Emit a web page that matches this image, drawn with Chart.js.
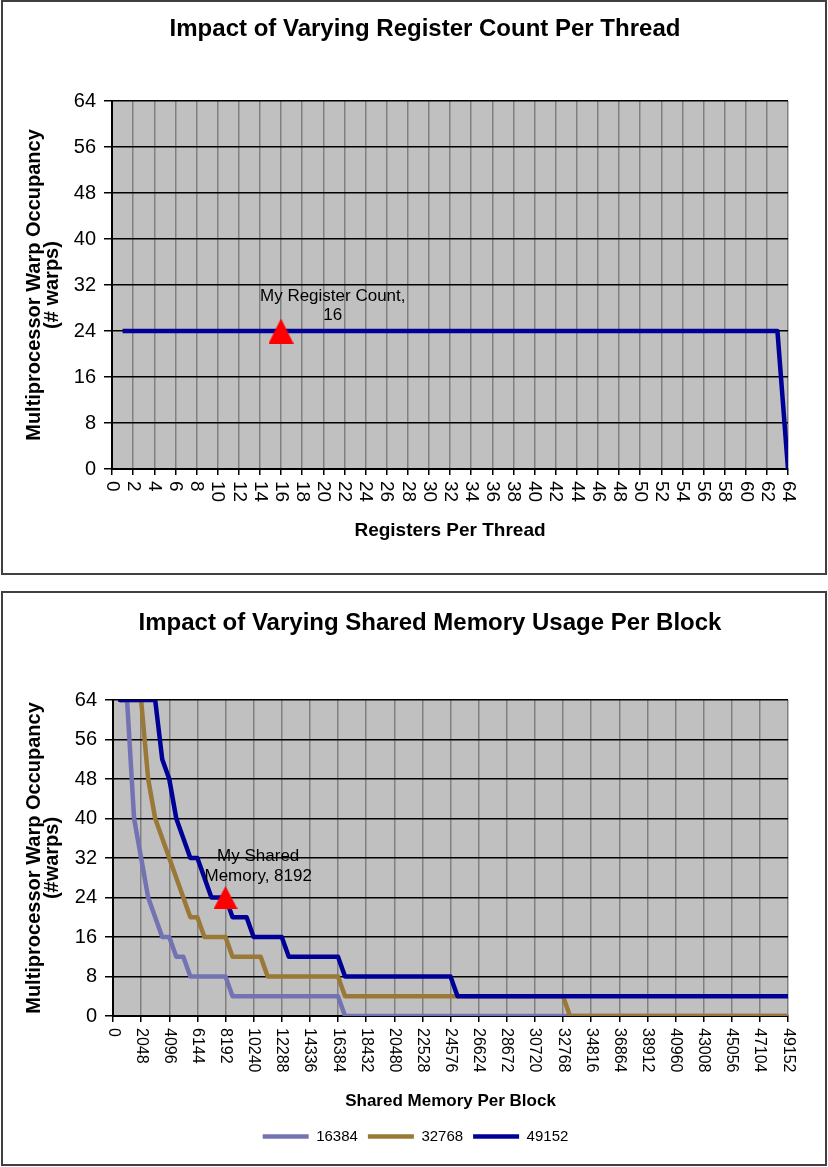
<!DOCTYPE html>
<html>
<head>
<meta charset="utf-8">
<script src="https://cdn.jsdelivr.net/npm/chart.js@4.4.1/dist/chart.umd.min.js"></script>
<style>
  body { margin: 0; background: #fff; }
  .box { position: absolute; left: 1px; width: 822px; height: 571px; border: 2px solid #404040; }
  #box1 { top: 0px; }
  #box2 { top: 591px; }
  canvas { display: block; }
</style>
</head>
<body>
<div class="box" id="box1"><canvas id="regChart" width="822" height="571"></canvas></div>
<div class="box" id="box2"><canvas id="smemChart" width="822" height="571"></canvas></div>
<script>
// ---- chart 1 : registers per thread ----
var regCount = [
  1, 2, 3, 4, 5, 6, 7, 8, 9, 10, 11, 12, 13, 14, 15, 16,
  17, 18, 19, 20, 21, 22, 23, 24, 25, 26, 27, 28, 29, 30, 31, 32,
  33, 34, 35, 36, 37, 38, 39, 40, 41, 42, 43, 44, 45, 46, 47, 48,
  49, 50, 51, 52, 53, 54, 55, 56, 57, 58, 59, 60, 61, 62, 63, 64
];
var regWarps = [
  24, 24, 24, 24, 24, 24, 24, 24, 24, 24, 24, 24, 24, 24, 24, 24,
  24, 24, 24, 24, 24, 24, 24, 24, 24, 24, 24, 24, 24, 24, 24, 24,
  24, 24, 24, 24, 24, 24, 24, 24, 24, 24, 24, 24, 24, 24, 24, 24,
  24, 24, 24, 24, 24, 24, 24, 24, 24, 24, 24, 24, 24, 24, 24, 0
];
var regTicks = [0, 2, 4, 6, 8, 10, 12, 14, 16, 18, 20, 22, 24, 26, 28, 30, 32,
  34, 36, 38, 40, 42, 44, 46, 48, 50, 52, 54, 56, 58, 60, 62, 64];
var myRegs = 16, myRegWarps = 24;

// ---- chart 2 : shared memory per block ----
var smemBytes = [
  512, 1024, 1536, 2048, 2560, 3072, 3584, 4096, 4608, 5120, 5632, 6144, 6656, 7168, 7680, 8192,
  8704, 9216, 9728, 10240, 10752, 11264, 11776, 12288, 12800, 13312, 13824, 14336, 14848, 15360, 15872, 16384,
  16896, 17408, 17920, 18432, 18944, 19456, 19968, 20480, 20992, 21504, 22016, 22528, 23040, 23552, 24064, 24576,
  25088, 25600, 26112, 26624, 27136, 27648, 28160, 28672, 29184, 29696, 30208, 30720, 31232, 31744, 32256, 32768,
  33280, 33792, 34304, 34816, 35328, 35840, 36352, 36864, 37376, 37888, 38400, 38912, 39424, 39936, 40448, 40960,
  41472, 41984, 42496, 43008, 43520, 44032, 44544, 45056, 45568, 46080, 46592, 47104, 47616, 48128, 48640, 49152
];
var warps16k = [
  64, 64, 40, 32, 24, 20, 16, 16, 12, 12, 8, 8, 8, 8, 8, 8,
  4, 4, 4, 4, 4, 4, 4, 4, 4, 4, 4, 4, 4, 4, 4, 4,
  0, 0, 0, 0, 0, 0, 0, 0, 0, 0, 0, 0, 0, 0, 0, 0,
  0, 0, 0, 0, 0, 0, 0, 0, 0, 0, 0, 0, 0, 0, 0, 0,
  0, 0, 0, 0, 0, 0, 0, 0, 0, 0, 0, 0, 0, 0, 0, 0,
  0, 0, 0, 0, 0, 0, 0, 0, 0, 0, 0, 0, 0, 0, 0, 0
];
var warps32k = [
  64, 64, 64, 64, 48, 40, 36, 32, 28, 24, 20, 20, 16, 16, 16, 16,
  12, 12, 12, 12, 12, 8, 8, 8, 8, 8, 8, 8, 8, 8, 8, 8,
  4, 4, 4, 4, 4, 4, 4, 4, 4, 4, 4, 4, 4, 4, 4, 4,
  4, 4, 4, 4, 4, 4, 4, 4, 4, 4, 4, 4, 4, 4, 4, 4,
  0, 0, 0, 0, 0, 0, 0, 0, 0, 0, 0, 0, 0, 0, 0, 0,
  0, 0, 0, 0, 0, 0, 0, 0, 0, 0, 0, 0, 0, 0, 0, 0
];
var warps48k = [
  64, 64, 64, 64, 64, 64, 52, 48, 40, 36, 32, 32, 28, 24, 24, 24,
  20, 20, 20, 16, 16, 16, 16, 16, 12, 12, 12, 12, 12, 12, 12, 12,
  8, 8, 8, 8, 8, 8, 8, 8, 8, 8, 8, 8, 8, 8, 8, 8,
  4, 4, 4, 4, 4, 4, 4, 4, 4, 4, 4, 4, 4, 4, 4, 4,
  4, 4, 4, 4, 4, 4, 4, 4, 4, 4, 4, 4, 4, 4, 4, 4,
  4, 4, 4, 4, 4, 4, 4, 4, 4, 4, 4, 4, 4, 4, 4, 4
];
var smemConfigs = ['16384', '32768', '49152'];
var smemTicks = [0, 2048, 4096, 6144, 8192, 10240, 12288, 14336, 16384, 18432, 20480,
  22528, 24576, 26624, 28672, 30720, 32768, 34816, 36864, 38912, 40960, 43008, 45056, 47104, 49152];
var mySmem = 8192, mySmemWarps = 24;

var warpTicks = [0, 8, 16, 24, 32, 40, 48, 56, 64];

var FONT = '"Liberation Sans", Arial, sans-serif';
Chart.defaults.font.family = FONT;
Chart.defaults.color = '#000';

function xy(xs, ys) {
  return xs.map(function (x, i) { return { x: x, y: ys[i] }; });
}

function triangleImage(w, h) {
  var c = document.createElement('canvas');
  c.width = w; c.height = h;
  var g = c.getContext('2d');
  g.fillStyle = '#ff0000';
  g.beginPath();
  g.moveTo(w / 2, 0);
  g.lineTo(w, h);
  g.lineTo(0, h);
  g.closePath();
  g.fill();
  return c;
}

function useTicks(list) {
  return function (scale) {
    scale.ticks = list.map(function (v) { return { value: v }; });
  };
}

// silver plot area
var silverPlot = {
  id: 'silverPlot',
  beforeDraw: function (chart) {
    var a = chart.chartArea, ctx = chart.ctx;
    ctx.save();
    ctx.fillStyle = '#c0c0c0';
    ctx.fillRect(a.left, a.top, a.right - a.left, a.bottom - a.top);
    ctx.restore();
  }
};

// chart heading
var headline = {
  id: 'headline',
  afterDraw: function (chart, args, opts) {
    var ctx = chart.ctx;
    ctx.save();
    ctx.font = 'bold 24px ' + FONT;
    ctx.fillStyle = '#000';
    ctx.textAlign = 'center';
    ctx.textBaseline = 'middle';
    ctx.fillText(opts.text, opts.x, opts.y);
    ctx.restore();
  }
};

// x tick labels turned clockwise, reading downwards
var downTicks = {
  id: 'downTicks',
  afterDraw: function (chart, args, opts) {
    var xs = chart.scales.x, ctx = chart.ctx;
    ctx.save();
    ctx.font = opts.size + 'px ' + FONT;
    ctx.fillStyle = '#000';
    ctx.textAlign = 'left';
    ctx.textBaseline = 'middle';
    xs.ticks.forEach(function (t) {
      ctx.save();
      ctx.translate(xs.getPixelForValue(t.value), xs.top + opts.gap);
      ctx.rotate(Math.PI / 2);
      ctx.fillText(String(t.value), 0, 0);
      ctx.restore();
    });
    ctx.restore();
  }
};

// data label over the red marker
var callout = {
  id: 'callout',
  afterDatasetsDraw: function (chart, args, opts) {
    var ctx = chart.ctx;
    var px = chart.scales.x.getPixelForValue(opts.x);
    var py = chart.scales.y.getPixelForValue(opts.y);
    ctx.save();
    ctx.font = '17px ' + FONT;
    var w = 0;
    opts.lines.forEach(function (s) { w = Math.max(w, ctx.measureText(s).width); });
    var cx = px - 21 + w / 2;
    ctx.fillStyle = '#000';
    ctx.textAlign = 'center';
    ctx.textBaseline = 'middle';
    opts.lines.forEach(function (s, i) {
      ctx.fillText(s, cx, py + opts.dy - (opts.lines.length - 1 - i) * opts.gap);
    });
    ctx.restore();
  }
};

function gridX() {
  return { color: '#808080', lineWidth: 1.5, tickColor: '#000', tickLength: 6 };
}
function gridY() {
  return { color: '#000', lineWidth: 1.5, tickColor: '#000', tickLength: 8 };
}

// chart 1
new Chart(document.getElementById('regChart'), {
  type: 'line',
  data: {
    datasets: [
      {
        label: 'Warps',
        data: xy(regCount, regWarps),
        borderColor: '#000096',
        borderWidth: 4.5,
        borderJoinStyle: 'round',
        pointRadius: 0,
        order: 2
      },
      {
        label: 'My Register Count',
        data: [{ x: myRegs, y: myRegWarps }],
        pointStyle: triangleImage(25, 25),
        pointRadius: 12,
        showLine: false,
        order: 1
      }
    ]
  },
  options: {
    responsive: false,
    animation: false,
    events: [],
    layout: { padding: { top: 99, right: 37, bottom: 0, left: 0 } },
    plugins: {
      legend: { display: false },
      tooltip: { enabled: false },
      headline: { text: 'Impact of Varying Register Count Per Thread', x: 422, y: 27 },
      downTicks: { size: 19, gap: 12 },
      callout: { x: myRegs, y: myRegWarps, lines: ['My Register Count,', String(myRegs)], dy: -16, gap: 19 }
    },
    scales: {
      x: {
        type: 'linear',
        min: 0,
        max: 64,
        afterBuildTicks: useTicks(regTicks),
        afterFit: function (s) { s.height = 104; },
        ticks: { display: false },
        grid: gridX(),
        border: { color: '#000', width: 2 },
        title: {
          display: true,
          text: 'Registers Per Thread',
          font: { size: 19, weight: 'bold' },
          padding: { top: 0, bottom: 30.6 }
        }
      },
      y: {
        min: 0,
        max: 64,
        afterBuildTicks: useTicks(warpTicks),
        afterFit: function (s) { s.width = 109; },
        ticks: { font: { size: 20 }, padding: 8 },
        grid: gridY(),
        border: { color: '#000', width: 2 },
        title: {
          display: true,
          text: ['Multiprocessor Warp Occupancy', '(# warps)'],
          font: { size: 20, weight: 'bold', lineHeight: '18px' },
          padding: { top: 22, bottom: 0 }
        }
      }
    }
  },
  plugins: [silverPlot, headline, downTicks, callout]
});

// chart 2
var smemColors = ['#7373b4', '#9a7838', '#000096'];
var smemSeries = [warps16k, warps32k, warps48k];

var smemSets = smemSeries.map(function (vals, i) {
  return {
    label: smemConfigs[i],
    data: xy(smemBytes, vals),
    borderColor: smemColors[i],
    backgroundColor: smemColors[i],
    borderWidth: 4.5,
    borderJoinStyle: 'round',
    borderCapStyle: 'round',
    pointRadius: 0,
    order: 4 - i
  };
});
smemSets.push({
  label: 'My Shared Memory',
  data: [{ x: mySmem, y: mySmemWarps }],
  pointStyle: triangleImage(24, 23),
  pointRadius: 12,
  showLine: false,
  order: 0
});

new Chart(document.getElementById('smemChart'), {
  type: 'line',
  data: { datasets: smemSets },
  options: {
    responsive: false,
    animation: false,
    events: [],
    layout: { padding: { top: 107, right: 37, bottom: 10, left: 40 } },
    plugins: {
      legend: {
        position: 'bottom',
        labels: {
          usePointStyle: true,
          pointStyle: 'line',
          pointStyleWidth: 46,
          padding: 10,
          font: { size: 15 },
          filter: function (item) { return item.datasetIndex < 3; },
          sort: function (a, b) { return a.datasetIndex - b.datasetIndex; }
        }
      },
      tooltip: { enabled: false },
      headline: { text: 'Impact of Varying Shared Memory Usage Per Block', x: 427, y: 30 },
      downTicks: { size: 16, gap: 12 },
      callout: { x: mySmem, y: mySmemWarps, lines: ['My Shared', 'Memory, ' + mySmem], dy: -21, gap: 20 }
    },
    scales: {
      x: {
        type: 'linear',
        min: 0,
        max: 49152,
        afterBuildTicks: useTicks(smemTicks),
        afterFit: function (s) { s.height = 103; },
        ticks: { display: false },
        grid: gridX(),
        border: { color: '#000', width: 2 },
        title: {
          display: true,
          text: 'Shared Memory Per Block',
          font: { size: 17, weight: 'bold' },
          padding: { top: 0, bottom: 7.8 }
        }
      },
      y: {
        min: 0,
        max: 64,
        afterBuildTicks: useTicks(warpTicks),
        afterFit: function (s) { s.width = 70; },
        ticks: { font: { size: 20 }, padding: 8 },
        grid: gridY(),
        border: { color: '#000', width: 2 },
        title: {
          display: true,
          text: ['Multiprocessor Warp Occupancy', '(#warps)'],
          font: { size: 20, weight: 'bold', lineHeight: '18px' },
          padding: { top: -18, bottom: 0 }
        }
      }
    }
  },
  plugins: [silverPlot, headline, downTicks, callout]
});
</script>
</body>
</html>
